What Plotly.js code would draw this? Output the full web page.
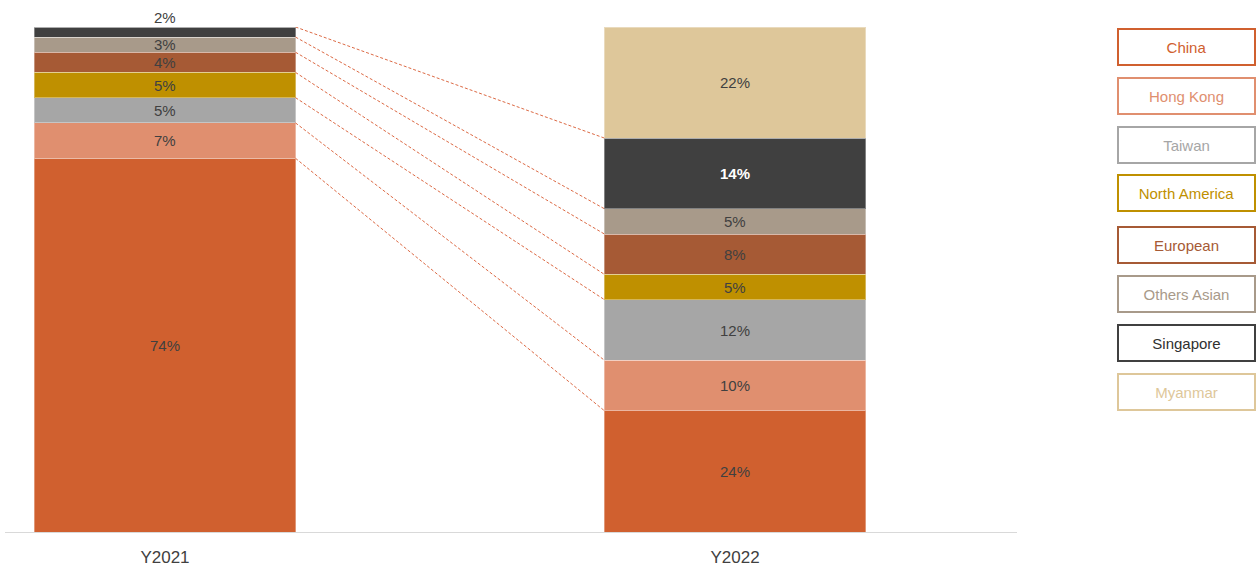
<!DOCTYPE html>
<html>
<head>
<meta charset="utf-8">
<script src="https://cdn.plot.ly/plotly-3.0.1.min.js"></script>
<style>html,body{margin:0;padding:0;background:#fff;}#chart{width:1257px;height:569px;}</style>
</head>
<body>
<div id="chart"></div>
<script>
const years = ["Y2021", "Y2022"];
const regions = ["China", "Hong Kong", "Taiwan", "North America", "European", "Others Asian", "Singapore", "Myanmar"];
const colors = ["#D0602F", "#E08F6F", "#A6A6A6", "#BF9000", "#A65A35", "#A89A8A", "#404040", "#DEC79A"];
const legendTextColors = ["#D0602F", "#E08F6F", "#A6A6A6", "#BF9000", "#A65A35", "#A89A8A", "#303030", "#DEC79A"];
const values2021 = [74, 7, 5, 5, 4, 3, 2, 0];
const values2022 = [24, 10, 12, 5, 8, 5, 14, 22];

const xs = [0, 1];
const barWidth = 0.458;
const traces = regions.map((r, i) => ({
  type: "bar",
  name: r,
  x: xs,
  y: [values2021[i], values2022[i]],
  width: barWidth,
  marker: {color: colors[i], line: {color: "rgba(255,255,255,0.35)", width: 1}},
  hoverinfo: "name+y",
  showlegend: false
}));

const annotations = [];
const shapes = [];
const cum = [[], []];
[values2021, values2022].forEach((vals, k) => {
  let base = 0;
  vals.forEach((v, i) => {
    cum[k][i] = base + v;
    if (v > 0) {
      const isSmallTop = (k === 0 && i === 6);
      const isWhite = (k === 1 && i === 6);
      annotations.push({
        x: xs[k], y: isSmallTop ? base + v : base + v / 2,
        xref: "x", yref: "y",
        yanchor: isSmallTop ? "bottom" : "middle",
        yshift: isSmallTop ? -1 : 0,
        text: isWhite ? "<b>" + v + "%</b>" : v + "%",
        showarrow: false,
        font: {family: "Liberation Sans, Arial, sans-serif", size: 15, color: isWhite ? "#ffffff" : "#404040"}
      });
    }
    base += v;
  });
});

// connector lines between segment tops
for (let i = 0; i < 7; i++) {
  shapes.push({
    type: "line", xref: "x", yref: "y",
    x0: xs[0] + barWidth / 2, y0: cum[0][i],
    x1: xs[1] - barWidth / 2, y1: cum[1][i],
    line: {color: "#DC6A45", width: 1, dash: "3px,2px"}
  });
}

// custom legend boxes
const plotL = 5, plotW = 1012, plotT = 27, plotH = 505;
const legendCentersPx = [47, 95.5, 144.5, 193.5, 245, 294, 343, 391.5];
regions.forEach((r, i) => {
  annotations.push({
    xref: "paper", yref: "paper",
    x: (1186.5 - plotL) / plotW,
    y: (plotT + plotH - legendCentersPx[i]) / plotH,
    xanchor: "center", yanchor: "middle",
    text: r, showarrow: false,
    width: 131, height: 30,
    bgcolor: "#ffffff", bordercolor: colors[i], borderwidth: 2, borderpad: 2,
    font: {family: "Liberation Sans, Arial, sans-serif", size: 15, color: legendTextColors[i]}
  });
});

const layout = {
  width: 1257, height: 569,
  margin: {l: plotL, r: 1257 - plotL - plotW, t: plotT, b: 569 - plotT - plotH, pad: 0},
  barmode: "stack",
  paper_bgcolor: "#ffffff", plot_bgcolor: "#ffffff",
  xaxis: {
    range: [-0.2807, 1.4947], tickvals: xs, ticktext: years,
    showline: true, linecolor: "#D9D9D9", linewidth: 1, showgrid: false, zeroline: false,
    ticks: "", ticklabelstandoff: 10,
    tickfont: {family: "Liberation Sans, Arial, sans-serif", size: 17, color: "#404040"}
  },
  yaxis: {range: [0, 100], visible: false, showgrid: false, zeroline: false, fixedrange: true},
  shapes: shapes,
  annotations: annotations,
  showlegend: false
};

Plotly.newPlot("chart", traces, layout, {displayModeBar: false, staticPlot: true});
</script>
</body>
</html>
